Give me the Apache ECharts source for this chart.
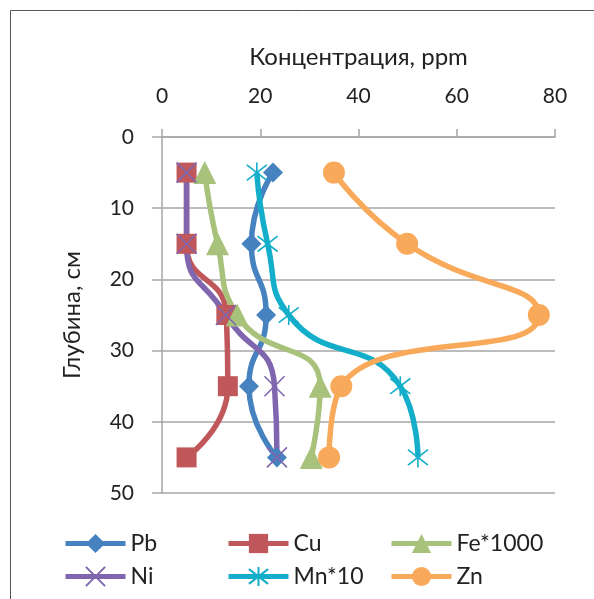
<!DOCTYPE html>
<html>
<head>
<meta charset="utf-8">
<script src="https://cdn.jsdelivr.net/npm/echarts@6/dist/echarts.min.js"></script>
<style>
  html, body { margin: 0; padding: 0; background: #fff; }
  #main { width: 594px; height: 599px; }
</style>
</head>
<body>
<div id="main"></div>
<script>
// глубина отбора, см
var depths = [5, 15, 25, 35, 45];
// концентрации, ppm
var pb = [22.6, 18.2, 21.2, 17.7, 23.4];
var cu = [5.0, 5.0, 13.1, 13.4, 5.0];
var fe1000 = [8.7, 11.3, 15.3, 32.2, 30.4];
var ni = [5.0, 5.0, 13.0, 22.9, 23.4];
var mn10 = [19.3, 21.5, 25.8, 48.5, 52.1];
var zn = [35.0, 49.9, 76.7, 36.5, 34.0];

var names = ['Pb', 'Cu', 'Fe*1000', 'Ni', 'Mn*10', 'Zn'];

var FONT = 'Lato, "Noto Sans", sans-serif';
var TXT = '#222';
var AXC = '#A6A6A6';
var chart = echarts.init(document.getElementById('main'));

function pairs(vals) {
  return vals.map(function (v, i) { return [v, depths[i]]; });
}

function mkSeries(name, vals, color, symbol, size, stroke) {
  var s = {
    name: name,
    type: 'line',
    smooth: 0.55,
    data: pairs(vals),
    symbol: symbol,
    symbolSize: size,
    showAllSymbol: true,
    color: color,
    lineStyle: { width: 5.5, color: color },
    itemStyle: { color: color, opacity: 1 },
    emphasis: { disabled: true }
  };
  if (stroke) {
    s.itemStyle = { color: color, borderColor: color, borderWidth: 1.6 };
  }
  return s;
}

// легенда: 2 строки по 3, каждая запись отдельно
function mkLegend(i) {
  var col = i % 3, row = Math.floor(i / 3);
  return {
    left: 63 + col * 163,
    top: 532 + row * 33,
    padding: 0,
    itemWidth: 60,
    itemHeight: 24,
    selectedMode: false,
    lineStyle: { width: 5 },
    textStyle: { fontSize: 23, color: TXT, fontFamily: FONT },
    data: [names[i]]
  };
}

var crossPath = 'path://M0,0L10,10M10,0L0,10';
var starPath = 'path://M0,0L10,10M10,0L0,10M5,-1.5L5,11.5';

var option = {
  backgroundColor: '#fff',
  animation: false,
  textStyle: { fontFamily: FONT },
  graphic: [{
    type: 'rect',
    shape: { x: 10.5, y: 10.5, width: 700, height: 700 },
    style: { fill: 'none', stroke: '#555', lineWidth: 1 },
    silent: true
  }],
  grid: { left: 162, right: 39, top: 137, bottom: 106 },
  legend: [0, 1, 2, 3, 4, 5].map(mkLegend),
  xAxis: {
    type: 'value',
    position: 'top',
    min: 0,
    max: 80,
    interval: 20,
    name: 'Концентрация, ppm',
    nameLocation: 'middle',
    nameGap: 68,
    nameTextStyle: { fontSize: 24, color: TXT, fontFamily: FONT },
    axisLine: { show: true, lineStyle: { color: AXC, width: 1.5 } },
    axisTick: { show: true, length: 8, lineStyle: { color: AXC, width: 1.5 } },
    axisLabel: { fontSize: 21, color: TXT, margin: 30, fontFamily: FONT },
    splitLine: { show: false }
  },
  yAxis: {
    type: 'value',
    inverse: true,
    min: 0,
    max: 50,
    interval: 10,
    name: 'Глубина, см',
    nameLocation: 'middle',
    nameGap: 78,
    nameTextStyle: { fontSize: 24, color: TXT, fontFamily: FONT },
    axisLine: { show: true, lineStyle: { color: AXC, width: 1.5 } },
    axisTick: { show: true, length: 10, lineStyle: { color: AXC, width: 1.5 } },
    axisLabel: { fontSize: 21, color: TXT, margin: 28, fontFamily: FONT },
    splitLine: { show: true, lineStyle: { color: AXC, width: 1.5 } }
  },
  series: [
    mkSeries('Pb', pb, '#4682C0', 'diamond', 20),
    mkSeries('Cu', cu, '#C0575A', 'rect', 20),
    mkSeries('Fe*1000', fe1000, '#A8C27C', 'triangle', 23),
    mkSeries('Ni', ni, '#8066AE', crossPath, 20, true),
    mkSeries('Mn*10', mn10, '#14AECA', starPath, 20, true),
    mkSeries('Zn', zn, '#F8A95A', 'circle', 22)
  ]
};

chart.setOption(option);
</script>
</body>
</html>
